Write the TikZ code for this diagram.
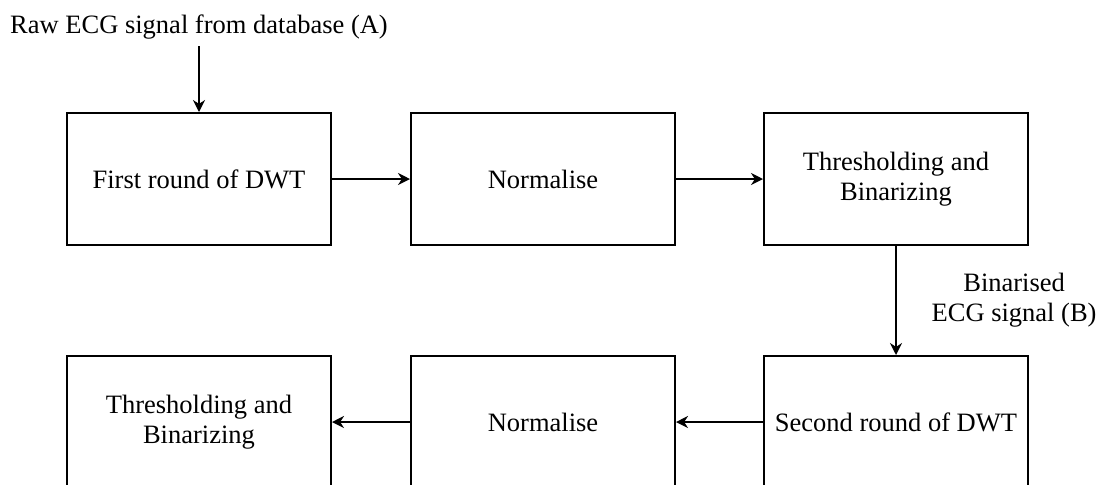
\documentclass[tikz,border=0pt]{standalone}
\usepackage{fontspec}
\setmainfont{Liberation Serif}
\usetikzlibrary{positioning,arrows.meta}

\begin{document}
\begin{tikzpicture}[
        >={Stealth[length=6pt,width=6pt]},
        font=\fontsize{13.25}{15}\selectfont,
        block/.style={draw, line width=1pt, minimum width=132pt, minimum height=66pt, align=center},
        flow/.style={->, line width=1pt},
        lbl/.style={align=center}]
        \useasboundingbox (0pt,0pt) rectangle (554.5pt,-242pt);

        % Define nodes
        \node[block]                      (dwt1)  at (99.5pt,-89.5pt) {First round of DWT};
        \node[block, right=39pt of dwt1]  (norm1) {Normalise};
        \node[block, right=43.5pt of norm1] (thr1) {Thresholding and\\Binarizing};
        \node[block, below=54.5pt of thr1]  (dwt2) {Second round of DWT};
        \node[block, left=43.5pt of dwt2]   (norm2) {Normalise};
        \node[block, left=39pt of norm2]    (thr2) {Thresholding and\\Binarizing};
        \node[lbl, above=33pt of dwt1]      (raw) {Raw ECG signal from database (A)};

        % Connect the nodes
        \draw[flow] (raw) -- (dwt1);
        \draw[flow] (dwt1) -- (norm1);
        \draw[flow] (norm1) -- (thr1);
        \draw[flow] (thr1) -- node[lbl, midway, right=14pt] (binlbl) {Binarised\\ECG signal (B)} (dwt2);
        \draw[flow] (dwt2) -- (norm2);
        \draw[flow] (norm2) -- (thr2);

    \end{tikzpicture}
\end{document}
